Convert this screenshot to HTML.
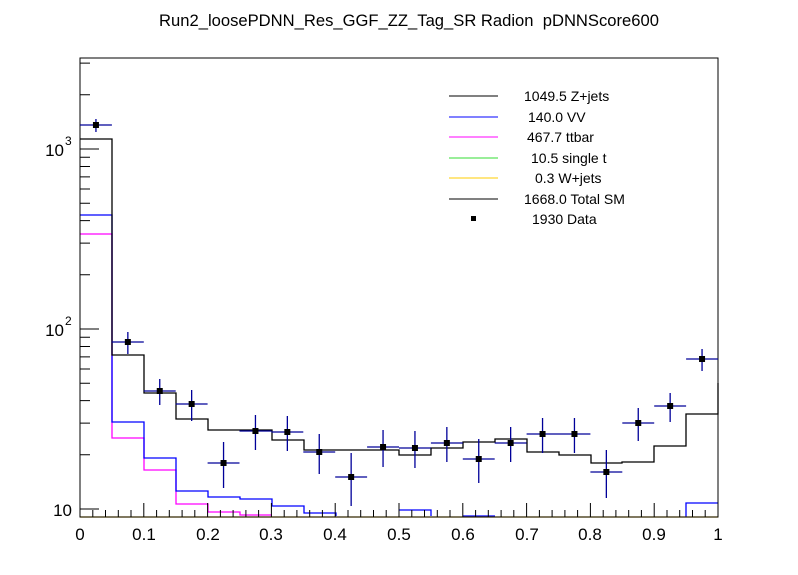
<!DOCTYPE html>
<html><head><meta charset="utf-8"><style>body{margin:0;background:#fff}svg{display:block}</style></head>
<body>
<svg width="798" height="575" xmlns="http://www.w3.org/2000/svg" font-family="Liberation Sans, sans-serif">
<rect width="798" height="575" fill="#fff"/>
<text x="409" y="26" font-size="16.6" text-anchor="middle">Run2_loosePDNN_Res_GGF_ZZ_Tag_SR Radion &#160;pDNNScore600</text>
<g fill="none" stroke-width="1.3">
<path stroke="#ff00ff" d="M80,234H112V438H144V470H176V504H208V512H240V515H272"/>
<path stroke="#0000ff" d="M80,215H112V422H144V458H176V491H208V497H240V499H272V506H304V513H336V516M399,510H431V516M463,516H495M686,517V503H718"/>
<path stroke="#000" d="M80,139H112V355H144V393H176V419H208V430H240V430H272V440H304V450H336V450H367V450H399V455H431V448H463V442H495V439H527V452H559V455H591V463H622V462H654V446H686V414H718V383"/>
</g>
<line x1="80" y1="517" x2="718" y2="517" stroke="#ffcc00" stroke-width="1.3"/>
<rect x="80" y="58" width="638" height="459" fill="none" stroke="#000" stroke-width="1"/>
<path fill="none" stroke="#000099" stroke-width="1.3" d="
M80,125h31.9M95.95,119V132
M111.9,342h31.9M127.85,332V354
M143.8,391h31.9M159.75,379V405
M175.7,404h31.9M191.65,390V421
M207.6,463h31.9M223.55,442V488
M239.5,431h31.9M255.45,415V450
M271.4,432h31.9M287.35,416V451
M303.3,452h31.9M319.25,434V474
M335.2,477h31.9M351.15,453V506
M367.1,447h31.9M383.05,430V467
M399,448h31.9M414.95,431V468
M430.9,443h31.9M446.85,427V462
M462.8,459h31.9M478.75,439V483
M494.7,443h31.9M510.65,427V462
M526.6,434h31.9M542.55,418V453
M558.5,434h31.9M574.45,418V453
M590.4,472h31.9M606.35,450V498
M622.3,423h31.9M638.25,408V441
M654.2,406h31.9M670.15,393V422
M686.1,359h31.9M702.05,349V371"/>
<g fill="#000">
<rect x="92.95" y="122" width="6" height="6"/>
<rect x="124.85" y="339" width="6" height="6"/>
<rect x="156.75" y="388" width="6" height="6"/>
<rect x="188.65" y="401" width="6" height="6"/>
<rect x="220.55" y="460" width="6" height="6"/>
<rect x="252.45" y="428" width="6" height="6"/>
<rect x="284.35" y="429" width="6" height="6"/>
<rect x="316.25" y="449" width="6" height="6"/>
<rect x="348.15" y="474" width="6" height="6"/>
<rect x="380.05" y="444" width="6" height="6"/>
<rect x="411.95" y="445" width="6" height="6"/>
<rect x="443.85" y="440" width="6" height="6"/>
<rect x="475.75" y="456" width="6" height="6"/>
<rect x="507.65" y="440" width="6" height="6"/>
<rect x="539.55" y="431" width="6" height="6"/>
<rect x="571.45" y="431" width="6" height="6"/>
<rect x="603.35" y="469" width="6" height="6"/>
<rect x="635.25" y="420" width="6" height="6"/>
<rect x="667.15" y="403" width="6" height="6"/>
<rect x="699.05" y="356" width="6" height="6"/>
</g>
<path fill="none" stroke="#000" stroke-width="1" d="
M80,517v-14M92.8,517v-7M105.5,517v-7M118.3,517v-7M131,517v-7M143.8,517v-14M156.6,517v-7M169.3,517v-7M182.1,517v-7M194.8,517v-7
M207.6,517v-14M220.4,517v-7M233.1,517v-7M245.9,517v-7M258.6,517v-7M271.4,517v-14M284.2,517v-7M296.9,517v-7M309.7,517v-7M322.4,517v-7
M335.2,517v-14M348,517v-7M360.7,517v-7M373.5,517v-7M386.2,517v-7M399,517v-14M411.8,517v-7M424.5,517v-7M437.3,517v-7M450,517v-7
M462.8,517v-14M475.6,517v-7M488.3,517v-7M501.1,517v-7M513.8,517v-7M526.6,517v-14M539.4,517v-7M552.1,517v-7M564.9,517v-7M577.6,517v-7
M590.4,517v-14M603.2,517v-7M615.9,517v-7M628.7,517v-7M641.4,517v-7M654.2,517v-14M667,517v-7M679.7,517v-7M692.5,517v-7M705.2,517v-7M718,517v-14
M80,509h19M80,454.8h10M80,423.1h10M80,400.6h10M80,383.2h10M80,369h10M80,356.9h10M80,346.5h10M80,337.3h10
M80,329h19M80,274.8h10M80,243.1h10M80,220.6h10M80,203.2h10M80,189h10M80,176.9h10M80,166.5h10M80,157.3h10
M80,149h19M80,94.8h10M80,63.1h10"/>
<g font-size="17">
<text x="80" y="540" text-anchor="middle">0</text>
<text x="144" y="540" text-anchor="middle">0.1</text>
<text x="208" y="540" text-anchor="middle">0.2</text>
<text x="271" y="540" text-anchor="middle">0.3</text>
<text x="335" y="540" text-anchor="middle">0.4</text>
<text x="399" y="540" text-anchor="middle">0.5</text>
<text x="463" y="540" text-anchor="middle">0.6</text>
<text x="527" y="540" text-anchor="middle">0.7</text>
<text x="590" y="540" text-anchor="middle">0.8</text>
<text x="654" y="540" text-anchor="middle">0.9</text>
<text x="718" y="540" text-anchor="middle">1</text>
<text x="72" y="516" text-anchor="end">10</text>
<text x="64" y="336" text-anchor="end">10</text><text x="65" y="325" font-size="12">2</text>
<text x="64" y="156" text-anchor="end">10</text><text x="65" y="145" font-size="12">3</text>
</g>
<g font-size="14">
<line x1="449" y1="96" x2="498" y2="96" stroke="#000"/><text x="524" y="101">1049.5 Z+jets</text>
<line x1="449" y1="117" x2="498" y2="117" stroke="#0000ff"/><text x="528" y="122">140.0 VV</text>
<line x1="449" y1="137" x2="498" y2="137" stroke="#ff00ff"/><text x="527" y="142">467.7 ttbar</text>
<line x1="449" y1="158" x2="498" y2="158" stroke="#33dd33"/><text x="531" y="163">10.5 single t</text>
<line x1="449" y1="178" x2="498" y2="178" stroke="#ffcc00"/><text x="535" y="183">0.3 W+jets</text>
<line x1="449" y1="199" x2="498" y2="199" stroke="#000"/><text x="524" y="204">1668.0 Total SM</text>
<rect x="471" y="216" width="5" height="5" fill="#000"/><text x="532" y="224">1930 Data</text>
</g>
</svg>
</body></html>
